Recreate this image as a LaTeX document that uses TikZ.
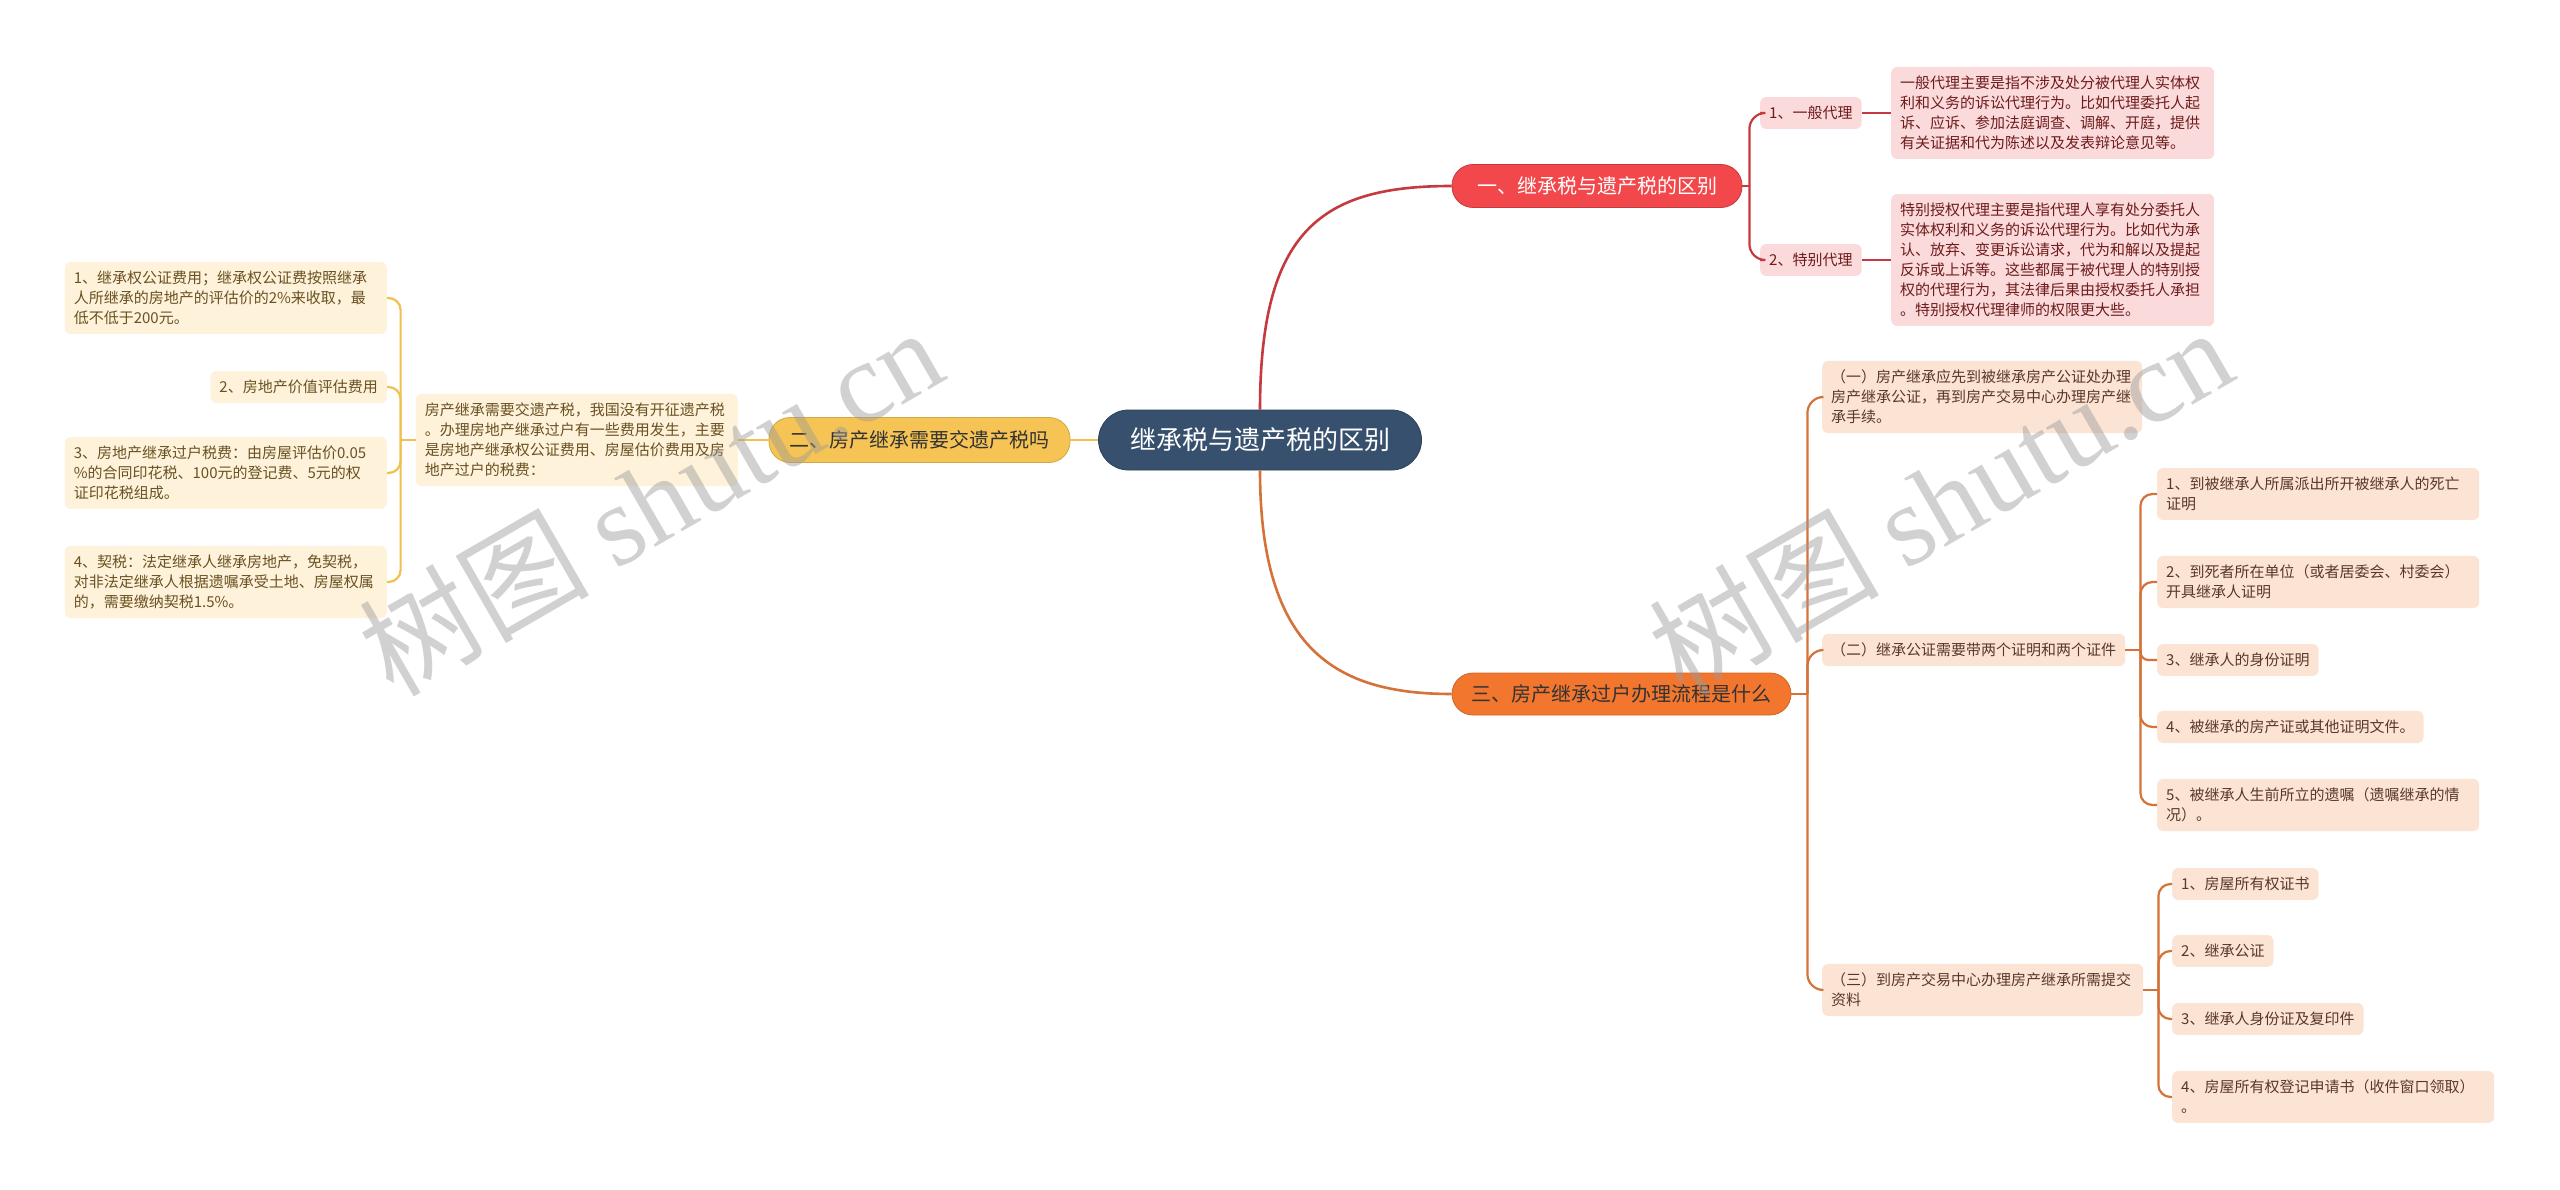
\documentclass[tikz,border=0pt]{standalone}
\usepackage{fontspec}
\setmainfont{Noto Sans CJK SC}
\newfontfamily\wmlatin{Liberation Serif}
\definecolor{rootc}{HTML}{36506D}
\definecolor{redc}{HTML}{F2474B}
\definecolor{redl}{HTML}{C43A3E}
\definecolor{pinkf}{HTML}{FBDADB}
\definecolor{pinkt}{HTML}{6E1C1C}
\definecolor{yelc}{HTML}{F6C454}
\definecolor{yell}{HTML}{F0C050}
\definecolor{creamf}{HTML}{FEF2DA}
\definecolor{creamt}{HTML}{6A5122}
\definecolor{orc}{HTML}{F2762E}
\definecolor{orl}{HTML}{D5723A}
\definecolor{peachf}{HTML}{FCE4D5}
\definecolor{peacht}{HTML}{5A3826}
\definecolor{wmc}{HTML}{9A9A9A}
\tikzset{
  boxbase/.style={font=\fontsize{15}{20}\selectfont, inner xsep=9pt, inner ysep=9pt, rounded corners=6pt, align=left},
  pinkbox/.style={boxbase, fill=pinkf, text=pinkt},
  peachbox/.style={boxbase, fill=peachf, text=peacht},
  creambox/.style={boxbase, fill=creamf, text=creamt},
  pill/.style={rounded corners=21pt, minimum height=43pt, font=\fontsize{20}{24}\selectfont, line width=0.8pt, inner xsep=4pt},
  mainline/.style={line width=2.6pt},
  subline/.style={line width=2.2pt},
  wm/.style={text=wmc, opacity=0.45, font=\fontsize{115}{120}\selectfont}
}
\begin{document}
\begin{tikzpicture}[x=1pt,y=-1pt]
\fill[white] (0,0) rectangle (2560,1190);
\useasboundingbox (0,0) rectangle (2560,1190);

% root
\node[fill=rootc, draw=rootc!80!black, line width=0.8pt, text=white, rounded corners=30pt, minimum width=323pt, minimum height=60pt, font=\fontsize{26}{30}\selectfont] (root) at (1260,440) {继承税与遗产税的区别};

% branches
\node[pill, fill=redc, draw=redl, text=white, minimum width=290pt] (b1) at (1597,186) {一、继承税与遗产税的区别};
\node[pill, fill=yelc, draw=yelc!85!black, text=black!80, minimum width=301pt, minimum height=45pt] (b2) at (919.5,440) {二、房产继承需要交遗产税吗};
\node[pill, fill=orc, draw=orc!85!black, text=black!80, minimum width=339pt, minimum height=42pt] (b3) at (1621.5,694) {三、房产继承过户办理流程是什么};

% branch 1 children
\node[pinkbox, anchor=west] (s11) at (1760,113) {1、一般代理};
\node[pinkbox, anchor=west] (s12) at (1760,260) {2、特别代理};
\node[pinkbox, anchor=west, text width=305pt] (l11) at (1891,113) {一般代理主要是指不涉及处分被代理人实体权\\利和义务的诉讼代理行为。比如代理委托人起\\诉、应诉、参加法庭调查、调解、开庭，提供\\有关证据和代为陈述以及发表辩论意见等。};
\node[pinkbox, anchor=west, text width=305pt] (l12) at (1891,260) {特别授权代理主要是指代理人享有处分委托人\\实体权利和义务的诉讼代理行为。比如代为承\\认、放弃、变更诉讼请求，代为和解以及提起\\反诉或上诉等。这些都属于被代理人的特别授\\权的代理行为，其法律后果由授权委托人承担\\。特别授权代理律师的权限更大些。};

% branch 3 children
\node[peachbox, anchor=west, text width=302pt] (o1) at (1822,397) {（一）房产继承应先到被继承房产公证处办理\\房产继承公证，再到房产交易中心办理房产继\\承手续。};
\node[peachbox, anchor=west] (o2) at (1822,650) {（二）继承公证需要带两个证明和两个证件};
\node[peachbox, anchor=west, text width=303pt] (o3) at (1822,990) {（三）到房产交易中心办理房产继承所需提交\\资料};

\node[peachbox, anchor=west, text width=304pt] (c1) at (2157,494) {1、到被继承人所属派出所开被继承人的死亡\\证明};
\node[peachbox, anchor=west, text width=304pt] (c2) at (2157,582) {2、到死者所在单位（或者居委会、村委会）\\开具继承人证明};
\node[peachbox, anchor=west] (c3) at (2157,660) {3、继承人的身份证明};
\node[peachbox, anchor=west] (c4) at (2157,727) {4、被继承的房产证或其他证明文件。};
\node[peachbox, anchor=west, text width=304pt] (c5) at (2157,805) {5、被继承人生前所立的遗嘱（遗嘱继承的情\\况）。};

\node[peachbox, anchor=west] (d1) at (2172,884) {1、房屋所有权证书};
\node[peachbox, anchor=west] (d2) at (2172,951) {2、继承公证};
\node[peachbox, anchor=west] (d3) at (2172,1019) {3、继承人身份证及复印件};
\node[peachbox, anchor=west, text width=304pt] (d4) at (2172,1097) {4、房屋所有权登记申请书（收件窗口领取）\\。};

% branch 2 children
\node[creambox, anchor=east, text width=304pt] (desc) at (738,440) {房产继承需要交遗产税，我国没有开征遗产税\\。办理房地产继承过户有一些费用发生，主要\\是房地产继承权公证费用、房屋估价费用及房\\地产过户的税费：};
\node[creambox, anchor=east, text width=304pt] (L1) at (387,298) {1、继承权公证费用；继承权公证费按照继承\\人所继承的房地产的评估价的2\%来收取，最\\低不低于200元。};
\node[creambox, anchor=east] (L2) at (387,387) {2、房地产价值评估费用};
\node[creambox, anchor=east, text width=304pt] (L3) at (387,473) {3、房地产继承过户税费：由房屋评估价0.05\\\%的合同印花税、100元的登记费、5元的权\\证印花税组成。};
\node[creambox, anchor=east, text width=304pt] (L4) at (387,582) {4、契税：法定继承人继承房地产，免契税，\\对非法定继承人根据遗嘱承受土地、房屋权属\\的，需要缴纳契税1.5\%。};

% main connectors
\draw[mainline, redl] (root.north) .. controls +(0,-180) and +(-130,0) .. (b1.west);
\draw[mainline, orl] (root.south) .. controls +(0,180) and +(-115,0) .. (b3.west);
\draw[mainline, yell] (root.west) -- (b2.east);

% branch 1 connectors
\draw[subline, redl] (b1.east) -- ++(7,0) coordinate (t1);
\draw[subline, redl, rounded corners=16pt] (t1) |- (s11.west);
\draw[subline, redl, rounded corners=16pt] (t1) |- (s12.west);
\draw[subline, redl] (s11.east) -- (l11.west);
\draw[subline, redl] (s12.east) -- (l12.west);

% branch 3 connectors
\draw[subline, orl] (b3.east) -- ++(16,0) coordinate (t3);
\draw[subline, orl, rounded corners=16pt] (t3) |- (o1.west);
\draw[subline, orl, rounded corners=16pt] (t3) |- (o2.west);
\draw[subline, orl, rounded corners=16pt] (t3) |- (o3.west);
\draw[subline, orl] (o2.east) -- ++(15,0) coordinate (t32);
\draw[subline, orl, rounded corners=12pt] (t32) |- (c1.west);
\draw[subline, orl, rounded corners=12pt] (t32) |- (c2.west);
\draw[subline, orl, rounded corners=8pt] (t32) |- (c3.west);
\draw[subline, orl, rounded corners=12pt] (t32) |- (c4.west);
\draw[subline, orl, rounded corners=12pt] (t32) |- (c5.west);
\draw[subline, orl] (o3.east) -- ++(15,0) coordinate (t33);
\draw[subline, orl, rounded corners=12pt] (t33) |- (d1.west);
\draw[subline, orl, rounded corners=12pt] (t33) |- (d2.west);
\draw[subline, orl, rounded corners=12pt] (t33) |- (d3.west);
\draw[subline, orl, rounded corners=12pt] (t33) |- (d4.west);

% branch 2 connectors
\draw[subline, yell] (b2.west) -- (desc.east);
\draw[subline, yell] (desc.west) -- ++(-15,0) coordinate (t2);
\draw[subline, yell, rounded corners=12pt] (t2) |- (L1.east);
\draw[subline, yell, rounded corners=12pt] (t2) |- (L2.east);
\draw[subline, yell, rounded corners=12pt] (t2) |- (L3.east);
\draw[subline, yell, rounded corners=12pt] (t2) |- (L4.east);

% watermarks
\node[wm, rotate=30] (wm1) at (650,500) {树图 {\wmlatin shutu.cn}};
\node[wm, rotate=30] (wm2) at (1940,500) {树图 {\wmlatin shutu.cn}};
\end{tikzpicture}
\end{document}
